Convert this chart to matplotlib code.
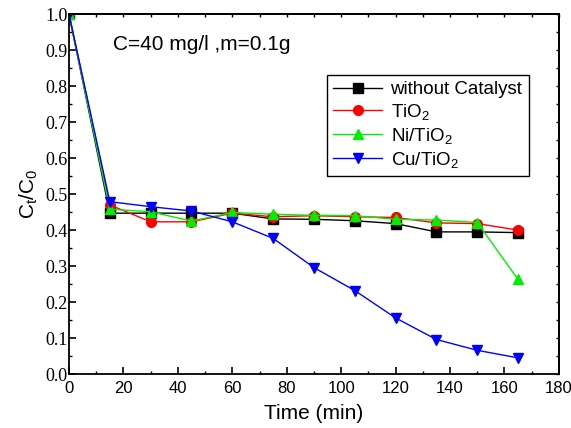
import matplotlib
matplotlib.use("Agg")
import matplotlib.pyplot as plt
from matplotlib.ticker import MultipleLocator

time_min = [0, 15, 30, 45, 60, 75, 90, 105, 120, 135, 150, 165]
no_catalyst = [1.0, 0.447, 0.447, 0.447, 0.447, 0.431, 0.430, 0.426, 0.418, 0.395, 0.395, 0.393]
tio2 = [1.0, 0.470, 0.423, 0.423, 0.447, 0.437, 0.440, 0.437, 0.435, 0.420, 0.418, 0.400]
ni_tio2 = [1.0, 0.458, 0.451, 0.425, 0.449, 0.444, 0.441, 0.440, 0.430, 0.428, 0.421, 0.263]
cu_tio2 = [1.0, 0.479, 0.465, 0.453, 0.423, 0.377, 0.296, 0.232, 0.156, 0.096, 0.066, 0.045]

series = [
    ("without Catalyst", no_catalyst, "black", "s"),
    ("TiO$_2$", tio2, "red", "o"),
    ("Ni/TiO$_2$", ni_tio2, "#00ee00", "^"),
    ("Cu/TiO$_2$", cu_tio2, "blue", "v"),
]

SANS = ["Liberation Sans", "DejaVu Sans"]
SERIF = ["Liberation Serif", "DejaVu Serif"]
# serif is the default (y tick labels); everything else names sans explicitly
plt.rcParams["font.family"] = SERIF
plt.rcParams["mathtext.fontset"] = "custom"
plt.rcParams["mathtext.rm"] = "Liberation Sans"
plt.rcParams["mathtext.it"] = "Liberation Sans"

fig = plt.figure(figsize=(5.71, 4.28), dpi=100)
ax = fig.add_axes([0.1208, 0.126, 0.858, 0.841])

for label, values, color, marker in series:
    ax.plot(time_min, values, color=color, marker=marker, markersize=7,
            linewidth=1.0, label=label)

ax.set_xlim(0, 180)
ax.set_ylim(0, 1.0)
ax.xaxis.set_major_locator(MultipleLocator(20))
ax.xaxis.set_minor_locator(MultipleLocator(10))
ax.yaxis.set_major_locator(MultipleLocator(0.1))
ax.yaxis.set_minor_locator(MultipleLocator(0.05))
ax.yaxis.set_major_formatter(lambda v, pos: f"{v:.1f}")

ax.tick_params(which="major", direction="in", length=5, width=1.2, top=False, right=False)
ax.tick_params(which="minor", direction="in", length=2.5, width=1.0, top=False, right=False)
ax.tick_params(axis="x", which="major", labelsize=12, pad=5)
ax.tick_params(axis="y", which="major", labelsize=13, pad=1)

# small ticks on the top and right frame
top = ax.secondary_xaxis("top")
top.xaxis.set_major_locator(MultipleLocator(10))
top.tick_params(direction="in", length=2.5, width=1.0, labeltop=False)
right = ax.secondary_yaxis("right")
right.yaxis.set_major_locator(MultipleLocator(0.05))
right.tick_params(direction="in", length=2.5, width=1.0, labelright=False)
for sp in list(ax.spines.values()) + [top.spines["top"], right.spines["right"]]:
    sp.set_linewidth(1.3)

ax.set_xlabel("Time (min)", family=SANS, fontsize=15, labelpad=6)
ax.set_ylabel("C$_t$/C$_0$", family=SANS, fontsize=15, labelpad=4)

ax.text(0.09, 0.915, "C=40 mg/l ,m=0.1g", transform=ax.transAxes,
        family=SANS, fontsize=15, va="center", ha="left")

leg = ax.legend(loc="upper right", bbox_to_anchor=(0.958, 0.858), prop={"family": SANS, "size": 13.5},
                fancybox=False, edgecolor="black", framealpha=1, handlelength=2.6,
                borderpad=0.35, labelspacing=0.2, handletextpad=0.45)
leg.get_frame().set_linewidth(1.0)

fig.canvas.draw()
for lab in ax.get_xticklabels():
    lab.set_family(SANS)

fig.savefig("out.png", dpi=100)
